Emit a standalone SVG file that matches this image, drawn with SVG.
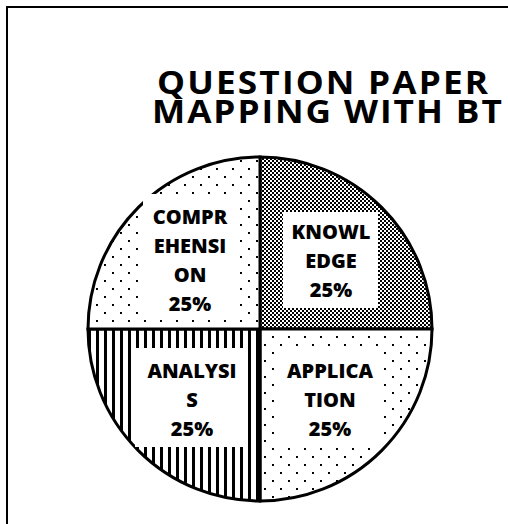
<svg xmlns="http://www.w3.org/2000/svg" width="508" height="524" viewBox="0 0 508 524">
<style>
.t{font-family:"Open Sans","Noto Sans","Liberation Sans",sans-serif;fill:#000}
.lbl{font-size:20px;font-weight:800;text-anchor:middle}
.ttl{font-size:32px;font-weight:bold}
.slice{stroke:#000;stroke-width:3;stroke-linejoin:miter}
.box{fill:#fff;stroke:none}
</style>
<defs>
<pattern id="checker" width="4" height="4" patternUnits="userSpaceOnUse">
<rect width="4" height="4" fill="#fff"/>
<rect width="2" height="2" fill="#000"/>
<rect x="2" y="2" width="2" height="2" fill="#000"/>
</pattern>
<pattern id="dots" width="16" height="16" patternUnits="userSpaceOnUse">
<rect width="16" height="16" fill="#fff"/>
<rect x="0" y="0" width="2" height="2" fill="#000"/>
<rect x="8" y="8" width="2" height="2" fill="#000"/>
</pattern>
<pattern id="vlines" width="8" height="8" patternUnits="userSpaceOnUse">
<rect width="8" height="8" fill="#fff"/>
<rect x="0" y="0" width="3" height="8" fill="#000"/>
</pattern>
</defs>
<rect x="0" y="0" width="508" height="524" fill="#fff"/>
<rect x="7" y="7" width="540" height="560" fill="none" stroke="#000" stroke-width="2"/>
<g id="title">
<text class="t ttl" transform="scale(1.1,1)"><tspan x="142.7" y="94" textLength="301" lengthAdjust="spacing">QUESTION PAPER</tspan><tspan x="138.2" y="123" textLength="318" lengthAdjust="spacing">MAPPING WITH BT</tspan></text>
</g>
<g id="connectors"></g>
<g id="knowledge">
<path class="slice" fill="url(#checker)" d="M260,329 L260,157 A172,172 0 0 1 432,329 Z"/>
</g>
<g id="application">
<path class="slice" fill="url(#dots)" d="M260,329 L432,329 A172,172 0 0 1 260,501 Z"/>
</g>
<g id="analysis">
<path class="slice" fill="url(#vlines)" d="M260,329 L260,501 A172,172 0 0 1 88,329 Z"/>
</g>
<g id="comprehension">
<path class="slice" fill="url(#dots)" d="M260,329 L88,329 A172,172 0 0 1 260,157 Z"/>
</g>
<g id="label-knowledge">
<rect class="box" x="283" y="212" width="95" height="96"/>
<text class="t lbl" x="331" y="239">KNOWL</text>
<text class="t lbl" x="331" y="268">EDGE</text>
<text class="t lbl" x="331" y="297">25%</text>
</g>
<g id="label-comprehension">
<rect class="box" x="143" y="194" width="94" height="126"/>
<text class="t lbl" x="190" y="224">COMPR</text>
<text class="t lbl" x="190" y="253">EHENSI</text>
<text class="t lbl" x="190" y="282">ON</text>
<text class="t lbl" x="190" y="311">25%</text>
</g>
<g id="label-analysis">
<rect class="box" x="135" y="348" width="112" height="99"/>
<text class="t lbl" x="192" y="378">ANALYSI</text>
<text class="t lbl" x="192" y="407">S</text>
<text class="t lbl" x="192" y="436">25%</text>
</g>
<g id="label-application">
<rect class="box" x="275" y="346" width="106" height="102"/>
<text class="t lbl" x="330" y="378">APPLICA</text>
<text class="t lbl" x="330" y="407">TION</text>
<text class="t lbl" x="330" y="436">25%</text>
</g>
</svg>
